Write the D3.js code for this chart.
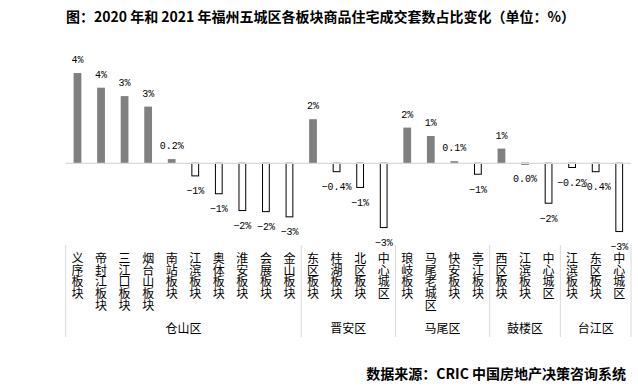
<!DOCTYPE html>
<html>
<head>
<meta charset="utf-8">
<script src="https://cdn.jsdelivr.net/npm/d3@7"></script>
<style>
  body { margin: 0; background: #fff; }
  svg { display: block; }
</style>
</head>
<body>
<div id="chart"></div>
<script>
// board names, one per bar
var boards = ["义序板块", "帝封江板块", "三江口板块", "烟台山板块", "南站板块", "江滨板块", "奥体板块", "淮安板块", "会展板块", "金山板块",
  "东区板块", "桂湖板块", "北区板块", "中心城区",
  "琅岐板块", "马尾老城区", "快安板块", "亭江板块",
  "西区板块", "江滨板块", "中心城区",
  "江滨板块", "东区板块", "中心城区"];

// change in share (%), 2021 vs 2020
var values = [4.3, 3.6, 3.2, 2.7, 0.2, -0.6, -1.45, -2.25, -2.3, -2.55,
  2.1, -0.4, -1.15, -3.06,
  1.7, 1.3, 0.1, -0.52,
  0.7, -0.03, -1.9,
  -0.2, -0.4, -3.25];

var districts = ["仓山区", "晋安区", "马尾区", "鼓楼区", "台江区"];
var districtCounts = [10, 4, 4, 3, 3];

var width = 638, height = 389;
var fontCJK = "'Noto Sans CJK SC', 'Noto Sans', sans-serif";

var svg = d3.select("#chart").append("svg")
  .attr("width", width)
  .attr("height", height);

var x = d3.scaleBand()
  .domain(d3.range(boards.length))
  .range([65.7, 631])
  .paddingInner(0.67)
  .paddingOuter(0.335);

// 0% sits at y=163.3, about 21px per percent
var y = d3.scaleLinear()
  .domain([-4, 4.5])
  .range([163.3 + 84, 163.3 - 94.5]);

// title
svg.append("text")
  .attr("x", 320.5)
  .attr("y", 21.5)
  .attr("text-anchor", "middle")
  .attr("font-family", fontCJK)
  .attr("font-weight", "bold")
  .attr("font-size", 14)
  .text("图：2020 年和 2021 年福州五城区各板块商品住宅成交套数占比变化（单位：%）");

// bars
svg.append("g")
  .selectAll("rect")
  .data(values)
  .join("rect")
    .attr("x", (d, i) => x(i) + (d < 0 ? 0.5 : 0))
    .attr("width", d => x.bandwidth() - (d < 0 ? 1 : 0))
    .attr("y", d => d >= 0 ? y(d) : y(0))
    .attr("height", d => Math.max(0.5, Math.abs(y(d) - y(0))))
    .attr("fill", d => d >= 0 ? "#808080" : "#fff")
    .attr("stroke", d => d >= 0 ? "none" : "#000")
    .attr("stroke-width", 1);

// zero line
svg.append("line")
  .attr("x1", x.range()[0]).attr("x2", x.range()[1])
  .attr("y1", y(0)).attr("y2", y(0))
  .attr("stroke", "#d9d9d9")
  .attr("stroke-width", 1.2);

// value labels
function fmt(v) {
  var s = Math.abs(v) < 0.5 ? v.toFixed(1) : d3.format(".0f")(v);
  if (+s === 0) s = s.replace("-", "");
  return s.replace("-", "−") + "%";
}

svg.append("g")
  .attr("font-family", "'Liberation Mono', 'DejaVu Sans Mono', monospace")
  .attr("font-size", 10)
  .attr("fill", "#000")
  .selectAll("text")
  .data(values)
  .join("text")
    .attr("x", (d, i) => x(i) + x.bandwidth() / 2)
    .attr("y", d => d >= 0 ? y(d) - 10 : y(d) + 18.5)
    .attr("text-anchor", "middle")
    .text(fmt);

// vertical category labels, one column of characters each
svg.append("g")
  .attr("font-family", fontCJK)
  .attr("font-size", 12)
  .attr("fill", "#000")
  .selectAll("text")
  .data(boards)
  .join("text")
    .style("writing-mode", "vertical-rl")
    .attr("letter-spacing", -0.3)
    .attr("x", (d, i) => x(i) + x.bandwidth() / 2)
    .attr("y", 252.5)
    .text(d => d);

// district groups and separators
var step = x.step();
var start = x.range()[0];
var bounds = [start];
districtCounts.forEach(c => { start += c * step; bounds.push(start); });

svg.append("g")
  .selectAll("line")
  .data(bounds)
  .join("line")
    .attr("x1", d => d).attr("x2", d => d)
    .attr("y1", 245).attr("y2", 337)
    .attr("stroke", "#d9d9d9")
    .attr("stroke-width", 1);

svg.append("g")
  .attr("font-family", fontCJK)
  .attr("font-size", 12)
  .selectAll("text")
  .data(districts)
  .join("text")
    .attr("x", (d, i) => (bounds[i] + bounds[i + 1]) / 2)
    .attr("y", 332.5)
    .attr("text-anchor", "middle")
    .text(d => d);

// source
svg.append("text")
  .attr("x", 626)
  .attr("y", 379)
  .attr("text-anchor", "end")
  .attr("font-family", fontCJK)
  .attr("font-weight", "bold")
  .attr("font-size", 14)
  .text("数据来源：CRIC 中国房地产决策咨询系统");
</script>
</body>
</html>
